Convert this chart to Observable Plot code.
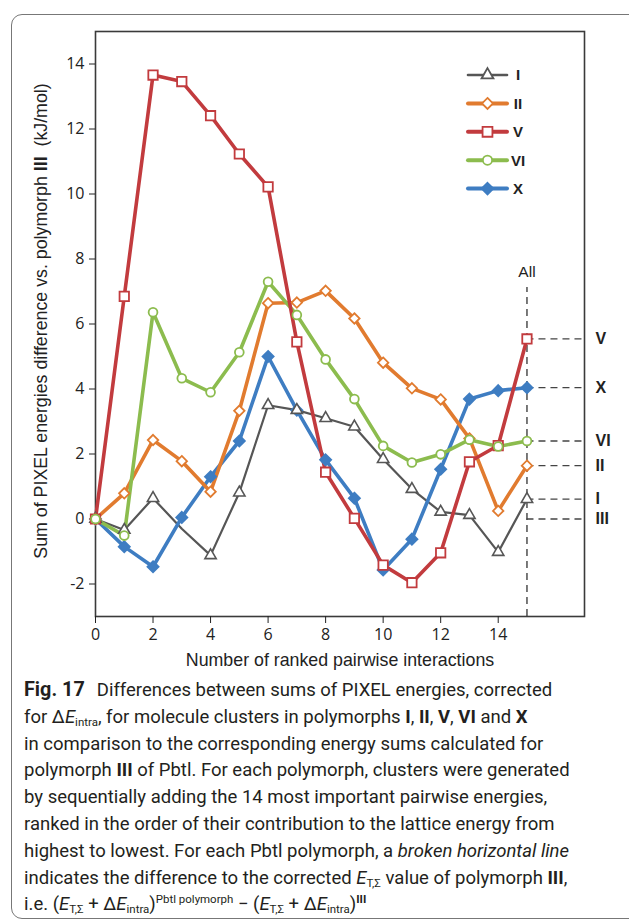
<!DOCTYPE html>
<html>
<head>
<meta charset="utf-8">
<script src="https://cdn.jsdelivr.net/npm/d3@7"></script>
<script src="https://cdn.jsdelivr.net/npm/@observablehq/plot@0.6"></script>
<style>
  html, body { margin: 0; padding: 0; background: #fff; }
  #wrap { position: relative; width: 629px; height: 923px; overflow: hidden; }
  #box { position: absolute; left: 11px; top: 14px; width: 640px; height: 905px;
         border: 1.5px solid #777; border-radius: 11px; box-sizing: border-box; }
  #chart { position: absolute; left: 0; top: 0; }
  #caption { position: absolute; left: 24px; top: 677px; font-family: Roboto, sans-serif;
             font-size: 18.5px; line-height: 26.8px; color: #231f20; white-space: nowrap; }
  #caption .ln { display: block; }
  #caption .fig { font-weight: bold; font-size: 1.07em; margin-right: 12px; }
  #caption sub { font-size: 0.62em; vertical-align: -0.3em; line-height: 0; }
  #caption sup { font-size: 0.62em; vertical-align: 0.6em; line-height: 0; }
</style>
</head>
<body>
<div id="wrap">
  <div id="box"></div>
  <div id="chart"></div>
  <div id="caption">
    <span class="ln"><span class="fig">Fig. 17</span>Differences between sums of PIXEL energies, corrected</span>
    <span class="ln">for Δ<i>E</i><sub>intra</sub>, for molecule clusters in polymorphs <b>I</b>, <b>II</b>, <b>V</b>, <b>VI</b> and <b>X</b></span>
    <span class="ln">in comparison to the corresponding energy sums calculated for</span>
    <span class="ln">polymorph <b>III</b> of Pbtl. For each polymorph, clusters were generated</span>
    <span class="ln">by sequentially adding the 14 most important pairwise energies,</span>
    <span class="ln">ranked in the order of their contribution to the lattice energy from</span>
    <span class="ln">highest to lowest. For each Pbtl polymorph, a <i>broken horizontal line</i></span>
    <span class="ln">indicates the difference to the corrected <i>E</i><sub>T,Σ</sub> value of polymorph <b>III</b>,</span>
    <span class="ln">i.e. (<i>E</i><sub>T,Σ</sub> + Δ<i>E</i><sub>intra</sub>)<sup>Pbtl polymorph</sup> − (<i>E</i><sub>T,Σ</sub> + Δ<i>E</i><sub>intra</sub>)<sup><b>III</b></sup></span>
  </div>
</div>
<script>
// ---- data ----
const steps = [0, 1, 2, 3, 4, 5, 6, 7, 8, 9, 10, 11, 12, 13, 14, 15];
const seriesNames = ["I", "II", "V", "VI", "X"];
const valuesI  = [0, -0.34, 0.64, -0.30, -1.12, 0.81, 3.50, 3.35, 3.10, 2.84, 1.84, 0.92, 0.22, 0.12, -1.02, 0.61];
const valuesII = [0, 0.79, 2.43, 1.78, 0.84, 3.33, 6.64, 6.66, 7.02, 6.17, 4.81, 4.02, 3.68, 2.48, 0.25, 1.64];
const valuesV  = [0, 6.85, 13.66, 13.46, 12.41, 11.23, 10.22, 5.45, 1.44, 0.02, -1.42, -1.96, -1.04, 1.76, 2.26, 5.54];
const valuesVI = [0, -0.51, 6.36, 4.33, 3.90, 5.13, 7.30, 6.28, 4.91, 3.69, 2.25, 1.74, 1.99, 2.44, 2.23, 2.40];
const valuesX  = [0, -0.85, -1.47, 0.05, 1.30, 2.40, 5.00, 3.35, 1.82, 0.64, -1.57, -0.62, 1.53, 3.69, 3.95, 4.04];
const hiddenMarkers = [["I", 3]];
const referenceName = "III";
const referenceValue = 0;
const allStep = 15;
const allLabel = "All";
const xTicks = [0, 2, 4, 6, 8, 10, 12, 14];
const yTicks = [-2, 0, 2, 4, 6, 8, 10, 12, 14];
const xDomain = [0, 17];
const yDomain = [-3, 15];
const xLabel = "Number of ranked pairwise interactions";

// ---- styles ----
const colors = {I: "#565656", II: "#E17B2F", V: "#C23B3E", VI: "#8CBC4E", X: "#3E7DC2"};
const symbols = {I: "triangle", II: "diamond2", V: "square", VI: "circle", X: "diamond2"};
const radii = {I: 4.2, II: 4.7, V: 5.3, VI: 4.4, X: 5.0};
const lineW = {I: 2.2, II: 3.6, V: 3.6, VI: 3.6, X: 3.6};
const filled = {I: false, II: false, V: false, VI: false, X: true};

const valueMap = {I: valuesI, II: valuesII, V: valuesV, VI: valuesVI, X: valuesX};
const rows = [];
for (const s of seriesNames) steps.forEach((x, i) => rows.push({s, x, y: valueMap[s][i]}));
const finals = seriesNames.map(s => ({s, y: valueMap[s][valueMap[s].length - 1]}));
finals.push({s: referenceName, y: referenceValue});

const lineOrder = ["I", "X", "II", "VI", "V"];
const markOrder = ["X", "I", "II", "V", "VI"];

const marks = [
  Plot.frame({stroke: "#3a3a3a", strokeWidth: 1.6}),
  Plot.axisX({ticks: xTicks, tickSize: 7, tickPadding: 5, fontSize: 16, label: null, tickFormat: d => String(d)}),
  Plot.axisY({ticks: yTicks, tickSize: 6, tickPadding: 5, fontSize: 16, label: null, tickFormat: d => String(d)}),
  Plot.ruleX([allStep], {y1: yDomain[0], y2: 7.12, stroke: "#333", strokeWidth: 1.3, strokeDasharray: "7,5"}),
  Plot.ruleY(finals, {y: "y", x1: allStep, x2: xDomain[1], stroke: "#444", strokeWidth: 1.3, strokeDasharray: "7,5"}),
  Plot.text([allLabel], {x: allStep, y: 7.12, dy: -16, text: d => d, fontSize: 15.5, fill: "#222",
                         fontFamily: "Liberation Sans, Arial, sans-serif"}),
  Plot.text(finals, {x: xDomain[1], y: "y", text: "s", dx: 11, textAnchor: "start", fontWeight: "bold",
                     fontSize: 16, fontFamily: "Liberation Sans, Arial, sans-serif", fill: "#222"})
];
for (const s of lineOrder) {
  marks.push(Plot.line(rows.filter(d => d.s === s), {x: "x", y: "y", stroke: colors[s], strokeWidth: lineW[s], strokeLinejoin: "round"}));
}
for (const s of markOrder) {
  const pts = rows.filter(d => d.s === s && !hiddenMarkers.some(h => h[0] === s && h[1] === d.x));
  marks.push(Plot.dot(pts, {x: "x", y: "y", symbol: () => symbols[s], r: radii[s],
    stroke: colors[s], fill: filled[s] ? colors[s] : "white", strokeWidth: s === "I" ? 1.6 : 1.8}));
}

const chart = Plot.plot({
  width: 629, height: 676,
  marginLeft: 95, marginRight: 45, marginTop: 31, marginBottom: 60,
  x: {domain: xDomain},
  y: {domain: yDomain},
  symbol: {type: "identity"},
  style: {fontFamily: "'Open Sans', sans-serif", fontSize: "16px", color: "#222", background: "transparent"},
  marks
});
document.getElementById("chart").appendChild(chart);

const svg = d3.select(chart);

// x-axis title
svg.append("text")
  .attr("x", 340).attr("y", 666)
  .attr("text-anchor", "middle")
  .attr("font-family", "Liberation Sans, Arial, sans-serif")
  .attr("font-size", 17.8).attr("fill", "#222")
  .text(xLabel);

// y-axis title with mixed styling
const yt = svg.append("text")
  .attr("transform", "translate(47,321) rotate(-90)")
  .attr("text-anchor", "middle")
  .attr("font-family", "Liberation Sans, Arial, sans-serif")
  .attr("font-size", 17.8)
  .attr("fill", "#222");
yt.append("tspan").text("Sum of PIXEL energies difference vs. polymorph ");
yt.append("tspan").attr("font-weight", "bold").text("III");
yt.append("tspan").text("\u00a0\u00a0(kJ/mol)");

// legend
const lg = svg.append("g").attr("transform", "translate(468,75)");
seriesNames.forEach((s, i) => {
  const g = lg.append("g").attr("transform", `translate(0,${i * 28.4})`);
  g.append("line").attr("x1", 0).attr("x2", 39).attr("stroke", colors[s])
    .attr("stroke-width", s === "I" ? 2.6 : 4).attr("stroke-linecap", "round");
  const sym = {triangle: d3.symbolTriangle, diamond2: d3.symbolDiamond2, square: d3.symbolSquare, circle: d3.symbolCircle}[symbols[s]];
  g.append("path").attr("transform", "translate(19.5,0)")
    .attr("d", d3.symbol(sym, Math.PI * radii[s] * radii[s] * 1.1)())
    .attr("fill", filled[s] ? colors[s] : "white").attr("stroke", colors[s]).attr("stroke-width", 1.8);
  g.append("text").attr("x", 50).attr("dy", "0.36em").attr("font-family", "Liberation Sans, Arial, sans-serif")
    .attr("font-weight", "bold").attr("font-size", 15).attr("fill", "#222").text(s);
});
</script>
</body>
</html>
